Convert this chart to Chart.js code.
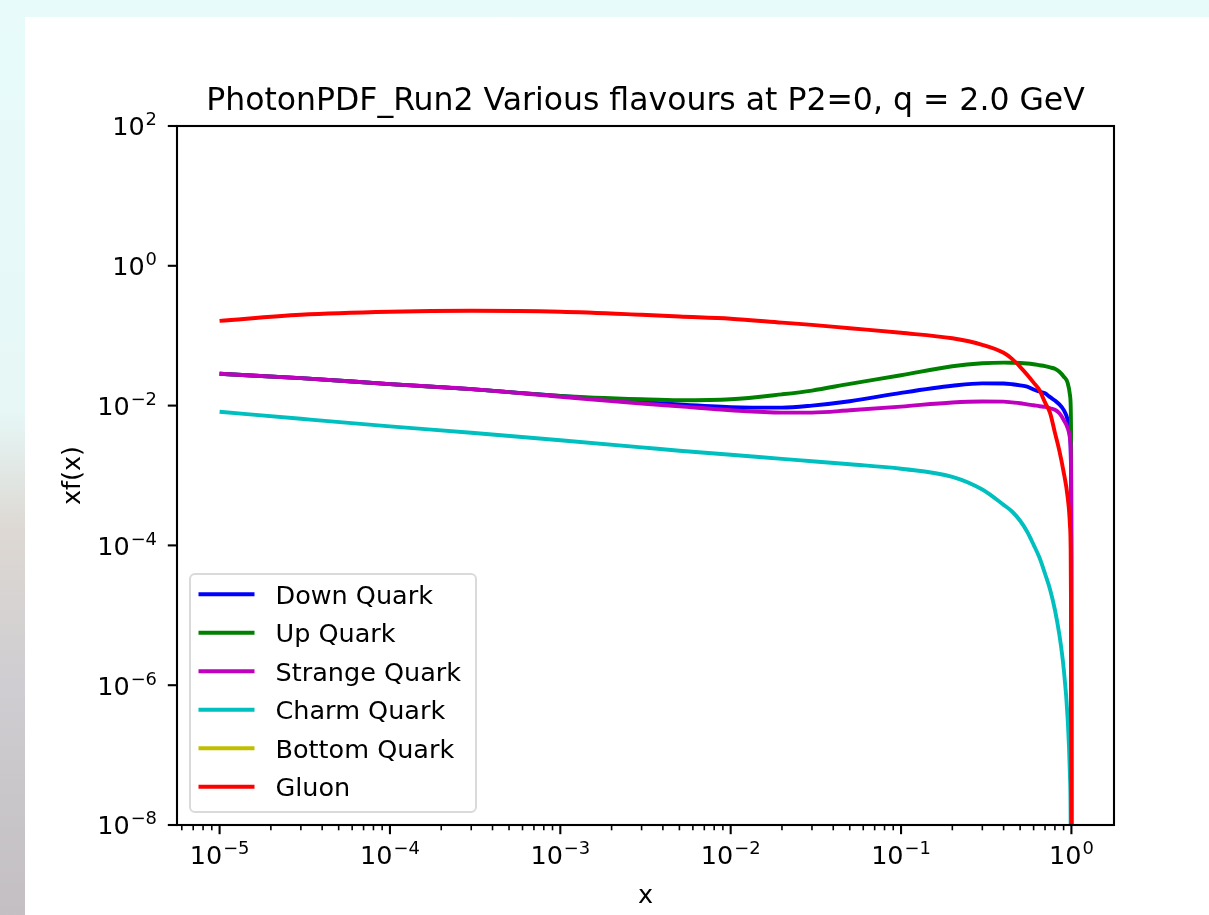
<!DOCTYPE html>
<html lang="en">
<head>
<meta charset="UTF-8">
<title>PhotonPDF_Run2 Various flavours</title>
<script src="https://cdn.jsdelivr.net/npm/chart.js"></script>
<style>
  html, body { margin: 0; padding: 0; width: 1209px; height: 915px; overflow: hidden; }
  body {
    position: relative;
    background: linear-gradient(180deg, #e8fbfb 0%, #e6f7f6 45%, #ddd8d3 58%, #cfcdd1 75%, #c3bfc2 100%);
  }
  #fig { position: absolute; left: 25px; top: 17px; width: 1184px; height: 898px; background: #fff; }
  canvas { display: block; }
</style>
</head>
<body>
<div id="fig"><canvas id="pdf" width="1184" height="898"></canvas></div>
<script>
// x samples shared by every flavour
const xs = [1e-5, 3e-5, 1e-4, 3e-4, 1e-3, 3e-3, 5e-3, 1e-2, 2e-2, 3e-2, 5e-2, 0.1, 0.2, 0.3, 0.4, 0.45, 0.5, 0.55,
            0.6, 0.65, 0.7, 0.75, 0.8, 0.85, 0.9, 0.95, 0.98, 0.99, 0.995, 0.998, 0.9995];

const downQuark = [0.0285, 0.0247, 0.0203, 0.0172, 0.0137, 0.0113, 0.01037, 0.00952, 0.00936, 0.0100, 0.01153, 0.0152, 0.0192, 0.0208, 0.0207, 0.0202, 0.0195, 0.0187,
                   0.0170, 0.0159, 0.0150, 0.0132, 0.0118, 0.0104, 0.0087, 0.00627, 0.00382, 0.00249, 0.00102, 6.2e-5, 1e-9];
const upQuark = [0.0285, 0.0247, 0.0203, 0.0172, 0.0138, 0.0123, 0.0119, 0.0123, 0.0145, 0.0164, 0.0205, 0.0272, 0.0365, 0.0403, 0.0412, 0.0410, 0.0407, 0.0400,
                 0.0390, 0.0378, 0.0367, 0.0352, 0.0336, 0.0305, 0.0261, 0.0212, 0.0143, 0.0103, 0.0045, 2.3e-4, 1e-9];
const strangeQuark = [0.0285, 0.0247, 0.0203, 0.0172, 0.0134, 0.0107, 0.00975, 0.00857, 0.00794, 0.00794, 0.00857, 0.00968, 0.0111, 0.01145, 0.0114, 0.0111, 0.0108, 0.0104,
                      0.0101, 0.0098, 0.0096, 0.00915, 0.0087, 0.00776, 0.00627, 0.00481, 0.00346, 0.00257, 0.00121, 6.2e-5, 1e-9];
const charmQuark = [0.00815, 0.00647, 0.00505, 0.00408, 0.00319, 0.00253, 0.00226, 0.00198, 0.00173, 0.0016, 0.00145, 0.00125, 9.58e-4, 6.3e-4, 3.8e-4, 3.03e-4, 2.25e-4, 1.57e-4,
                    1.02e-4, 6.65e-5, 3.93e-5, 2.32e-5, 1.2e-5, 5.26e-6, 1.77e-6, 3.42e-7, 5.2e-8, 1e-8, 1e-10, 1e-11, 1e-12];
const bottomQuark = []; // zero below threshold, nothing drawn
const gluon = [0.163, 0.199, 0.220, 0.227, 0.220, 0.199, 0.188, 0.175, 0.154, 0.143, 0.128, 0.110, 0.0918, 0.0741, 0.0569, 0.0462, 0.0359, 0.0276,
               0.0213, 0.0166, 0.0111, 0.00781, 0.00411, 0.00225, 0.00113, 4.96e-4, 1.97e-4, 8.65e-5, 1.2e-5, 6.2e-7, 1e-9];

const labels = ['Down Quark', 'Up Quark', 'Strange Quark', 'Charm Quark', 'Bottom Quark', 'Gluon'];
const colors = ['#0000ff', '#008000', '#bf00bf', '#00bfbf', '#bfbf00', '#ff0000'];
const values = [downQuark, upQuark, strangeQuark, charmQuark, bottomQuark, gluon];

const xTickExps = [-5, -4, -3, -2, -1, 0];
const yTickExps = [-8, -6, -4, -2, 0, 2];

const FONT = '"DejaVu Sans", sans-serif';
const TICK_PX = 25.5, SUP_PX = 17.9, TITLE_PX = 31.5;

function drawPow(ctx, exp, x, y, align) {
  ctx.font = TICK_PX + 'px ' + FONT;
  const wBase = ctx.measureText('10').width;
  const expStr = exp < 0 ? '\u2212' + (-exp) : String(exp);
  ctx.font = SUP_PX + 'px ' + FONT;
  const wExp = ctx.measureText(expStr).width;
  const total = wBase + 1 + wExp;
  const left = align === 'center' ? x - total / 2 : x - total;
  ctx.textAlign = 'left';
  ctx.textBaseline = 'alphabetic';
  ctx.font = TICK_PX + 'px ' + FONT;
  ctx.fillText('10', left, y);
  ctx.font = SUP_PX + 'px ' + FONT;
  ctx.fillText(expStr, left + wBase + 1, y - 10);
}

const axesPlugin = {
  id: 'mplAxes',
  afterDraw(chart) {
    const ctx = chart.ctx, a = chart.chartArea;
    const sx = chart.scales.x, sy = chart.scales.y;
    ctx.save();
    ctx.fillStyle = '#000';
    ctx.strokeStyle = '#000';

    // minor x ticks
    ctx.lineWidth = 1.6;
    for (let k = -6; k <= 0; k++) {
      for (let m = 2; m <= 9; m++) {
        const v = m * Math.pow(10, k);
        if (v < sx.min || v > sx.max) continue;
        const px = sx.getPixelForValue(v);
        ctx.beginPath(); ctx.moveTo(px, a.bottom); ctx.lineTo(px, a.bottom + 5.3); ctx.stroke();
      }
    }
    // major ticks + labels
    ctx.lineWidth = 2.1;
    xTickExps.forEach(e => {
      const px = sx.getPixelForValue(Math.pow(10, e));
      ctx.beginPath(); ctx.moveTo(px, a.bottom); ctx.lineTo(px, a.bottom + 9.2); ctx.stroke();
      drawPow(ctx, e, px, a.bottom + 39, 'center');
    });
    yTickExps.forEach(e => {
      const py = sy.getPixelForValue(Math.pow(10, e));
      ctx.beginPath(); ctx.moveTo(a.left, py); ctx.lineTo(a.left - 9.2, py); ctx.stroke();
      drawPow(ctx, e, a.left - 20, py + 9.3, 'right');
    });

    // frame
    ctx.lineWidth = 2.1;
    ctx.strokeRect(a.left, a.top, a.right - a.left, a.bottom - a.top);

    // legend
    const bw = 286, bh = 238;
    const bx = a.left + 13, by = a.bottom - 13 - bh;
    ctx.beginPath();
    ctx.roundRect(bx, by, bw, bh, 5);
    ctx.fillStyle = 'rgba(255,255,255,0.8)';
    ctx.fill();
    ctx.lineWidth = 2;
    ctx.strokeStyle = '#dadada';
    ctx.stroke();
    ctx.font = TICK_PX + 'px ' + FONT;
    ctx.textAlign = 'left';
    ctx.textBaseline = 'alphabetic';
    labels.forEach((lab, i) => {
      const ry = by + 20.3 + i * 38.5;
      ctx.strokeStyle = colors[i];
      ctx.lineWidth = 3.9;
      ctx.beginPath(); ctx.moveTo(bx + 8.5, ry); ctx.lineTo(bx + 64.5, ry); ctx.stroke();
      ctx.fillStyle = '#000';
      ctx.fillText(lab, bx + 85.5, ry + 9.3);
    });

    // title and axis labels
    const cx = (a.left + a.right) / 2;
    ctx.fillStyle = '#000';
    ctx.textAlign = 'center';
    ctx.font = TITLE_PX + 'px ' + FONT;
    ctx.fillText('PhotonPDF_Run2 Various flavours at P2=0, q = 2.0 GeV', cx, 93);
    ctx.font = TICK_PX + 'px ' + FONT;
    ctx.fillText('x', cx, 886);
    ctx.translate(55, (a.top + a.bottom) / 2);
    ctx.rotate(-Math.PI / 2);
    ctx.fillText('xf(x)', 0, 0);
    ctx.restore();
  }
};

new Chart(document.getElementById('pdf'), {
  type: 'line',
  data: {
    datasets: labels.map((lab, i) => ({
      label: lab,
      data: values[i].map((v, j) => ({ x: xs[j], y: v })),
      borderColor: colors[i],
      backgroundColor: colors[i],
      borderWidth: 3.9,
      pointRadius: 0,
      fill: false,
      cubicInterpolationMode: 'monotone',
      borderJoinStyle: 'round',
      order: -i
    }))
  },
  options: {
    responsive: false,
    animation: false,
    events: [],
    layout: { padding: { left: 152, top: 109, right: 95, bottom: 90 } },
    plugins: { legend: { display: false }, title: { display: false }, tooltip: { enabled: false } },
    scales: {
      x: { type: 'logarithmic', min: Math.pow(10, -5.25), max: Math.pow(10, 0.25), display: false },
      y: { type: 'logarithmic', min: 1e-8, max: 1e2, display: false }
    }
  },
  plugins: [axesPlugin]
});
</script>
</body>
</html>
